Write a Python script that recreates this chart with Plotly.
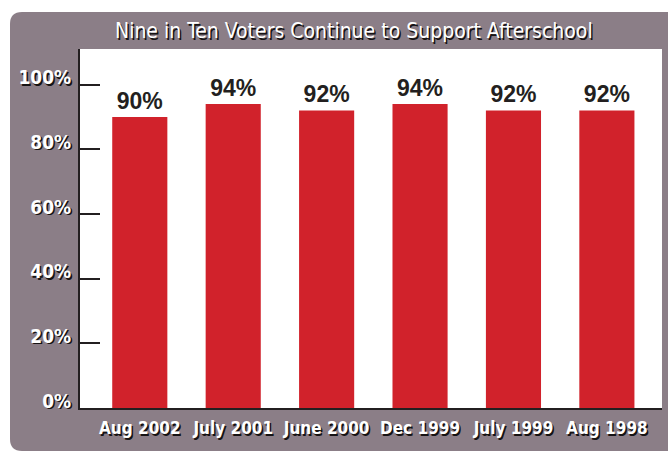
import plotly.graph_objects as go

# Survey waves and share of voters supporting afterschool programs
periods = ["Aug 2002", "July 2001", "June 2000", "Dec 1999", "July 1999", "Aug 1998"]
support = [90, 94, 92, 94, 92, 92]
y_ticks = [0, 20, 40, 60, 80, 100]
title_text = "Nine in Ten Voters Continue to Support Afterschool"

W, H = 668, 452
M = dict(l=80, r=6, t=49, b=44)
PW = W - M["l"] - M["r"]
PH = H - M["t"] - M["b"]

FRAME = "#8b7e87"
RED = "#d1222b"
INK = "#231f20"
SHADOW = "1.5px 1.5px 0.5px #161314"
NARROW = "DejaVu Sans Condensed, Liberation Sans Narrow, Roboto, sans-serif"


def px(x, y):
    """Pixel position on the page -> paper coordinates."""
    return f"{(x - M['l']) / PW:.5f},{(H - M['b'] - y) / PH:.5f}"


# Rounded grey panel behind the chart
left, top, right, bottom, r = 10, 12, 700, 451, 12
frame_path = (
    f"M {px(left + r, top)} L {px(right, top)} L {px(right, bottom)} "
    f"L {px(left + r, bottom)} Q {px(left, bottom)} {px(left, bottom - r)} "
    f"L {px(left, top + r)} Q {px(left, top)} {px(left + r, top)} Z"
)

fig = go.Figure(
    go.Bar(
        x=list(range(len(periods))),
        y=support,
        width=0.59,
        marker=dict(color=RED, line=dict(width=0)),
        text=[f"{v}%" for v in support],
        textposition="outside",
        textfont=dict(family="Liberation Sans, Arial, sans-serif", size=23,
                      color=INK, weight="bold"),
        cliponaxis=False,
    )
)

fig.update_layout(
    width=W,
    height=H,
    margin=dict(**M, autoexpand=False),
    paper_bgcolor="white",
    plot_bgcolor="white",
    showlegend=False,
    shapes=[
        dict(type="path", path=frame_path, xref="paper", yref="paper",
             fillcolor=FRAME, line=dict(width=0), layer="below"),
        dict(type="rect", xref="paper", yref="paper", x0=0, x1=1, y0=0, y1=1,
             fillcolor="white", line=dict(width=0), layer="below"),
    ],
    annotations=[
        dict(text=title_text, xref="paper", yref="paper",
             x=(354 - M["l"]) / PW, y=(H - M["b"] - 31) / PH,
             xanchor="center", yanchor="middle", showarrow=False,
             font=dict(family=NARROW, size=21, color="white", shadow=SHADOW)),
    ],
    xaxis=dict(
        range=[-0.64, 5.59],
        tickmode="array",
        tickvals=list(range(len(periods))),
        ticktext=periods,
        tickangle=0,
        automargin=False,
        showline=True, linecolor=INK, linewidth=2,
        ticks="", showgrid=False, zeroline=False,
        ticklabelstandoff=4,
        tickfont=dict(family=NARROW, size=17, color="white", weight="bold", shadow=SHADOW),
    ),
    yaxis=dict(
        range=[0, 111],
        tickmode="array",
        tickvals=y_ticks,
        ticktext=[f"{t}%" for t in y_ticks],
        automargin=False,
        showline=True, linecolor=INK, linewidth=2,
        ticks="inside", ticklen=20, tickwidth=2, tickcolor=INK,
        showgrid=False, zeroline=False,
        ticklabelstandoff=3, ticklabelshift=-7,
        tickfont=dict(family=NARROW, size=19, color="white", weight="bold", shadow=SHADOW),
    ),
)

fig.write_html("out.html")
